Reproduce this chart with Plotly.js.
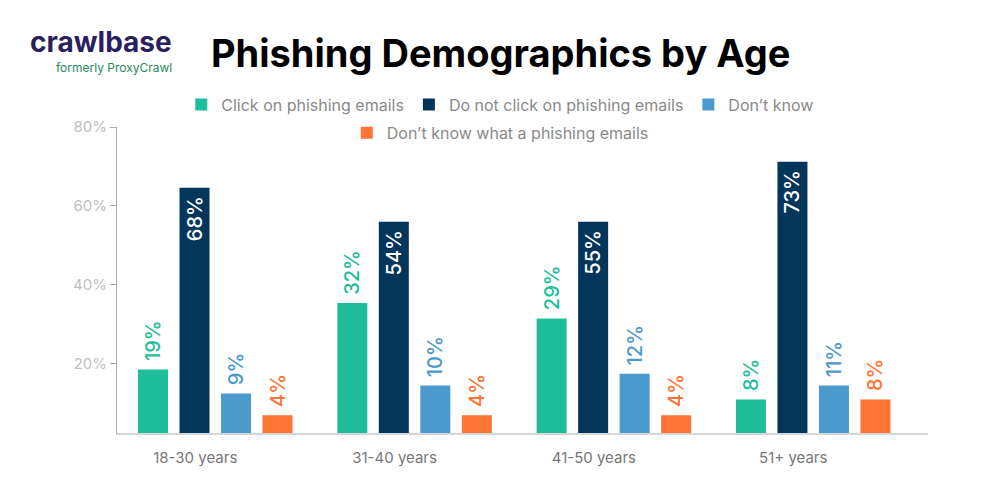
<!DOCTYPE html>
<html>
<head>
<meta charset="utf-8">
<script src="https://cdn.plot.ly/plotly-3.0.1.min.js"></script>
<style>html,body{margin:0;padding:0;background:#fff;}#chart{width:1000px;height:500px;}</style>
</head>
<body>
<div id="chart"></div>
<script>
const categories = ["18-30 years", "31-40 years", "41-50 years", "51+ years"];
const seriesNames = ["Click on phishing emails", "Do not click on phishing emails", "Don\u2019t know", "Don\u2019t know what a phishing emails"];
// bar heights as drawn in the picture (percent)
const clickBars = [18.6, 35.4, 31.5, 11.0];
const noClickBars = [64.6, 56.0, 56.0, 71.2];
const dontKnowBars = [12.5, 14.5, 17.5, 14.5];
const unawareBars = [7.0, 7.0, 7.0, 11.0];
// printed labels
const clickLabels = [19, 32, 29, 8];
const noClickLabels = [68, 54, 55, 73];
const dontKnowLabels = [9, 10, 12, 11];
const unawareLabels = [4, 4, 4, 8];
const yTicks = [20, 40, 60, 80];

const colors = ["#1ebe9a", "#04365c", "#4b9acb", "#fd7435"];
const FONT = "Inter, 'Noto Sans', sans-serif";
const pct = a => a.map(v => v + "%");
const NB = "\u00a0";

function outsideTrace(name, y, labels, color, legend) {
  return {
    type: "bar", name: name, x: categories, y: y,
    text: pct(labels).map(t => NB + t), textposition: "outside", textangle: -90, constraintext: "none",
    textfont: {family: FONT, size: 20, color: color, weight: 500},
    marker: {color: color}, cliponaxis: false, legend: legend,
    hoverinfo: "skip"
  };
}

const traces = [
  outsideTrace(seriesNames[0], clickBars, clickLabels, colors[0], "legend"),
  {
    type: "bar", name: seriesNames[1], x: categories, y: noClickBars,
    text: pct(noClickLabels).map(t => t + NB), textposition: "inside", insidetextanchor: "end", textangle: -90, constraintext: "none",
    insidetextfont: {family: FONT, size: 20, color: "#ffffff", weight: 500},
    marker: {color: colors[1]}, cliponaxis: false, legend: "legend", hoverinfo: "skip"
  },
  outsideTrace(seriesNames[2], dontKnowBars, dontKnowLabels, colors[2], "legend"),
  outsideTrace(seriesNames[3], unawareBars, unawareLabels, colors[3], "legend2")
];

const legendCommon = {
  orientation: "h", xanchor: "center", yanchor: "middle",
  font: {family: FONT, size: 16, color: "#8a8a8a"},
  bgcolor: "rgba(0,0,0,0)", itemwidth: 30, traceorder: "normal"
};

const layout = {
  width: 1000, height: 500,
  margin: {l: 117, r: 72, t: 127, b: 67, pad: 0},
  paper_bgcolor: "#ffffff", plot_bgcolor: "#ffffff",
  font: {family: FONT},
  barmode: "group", bargap: 0.167, bargroupgap: 0.277,
  xaxis: {
    type: "category", range: [-0.493, 3.576],
    showline: true, linecolor: "#d6d6d6", linewidth: 2,
    ticks: "", showgrid: false, zeroline: false,
    tickfont: {family: FONT, size: 15, color: "#777777"},
    ticklabelshift: -20, ticklabelstandoff: 10
  },
  yaxis: {
    range: [2.5, 80], tickvals: yTicks, ticktext: pct(yTicks),
    showline: true, linecolor: "#aaaaaa", linewidth: 1,
    ticks: "outside", ticklen: 6, tickcolor: "#aaaaaa", tickwidth: 1,
    showgrid: false, zeroline: false,
    tickfont: {family: FONT, size: 15, color: "#c0c0c0"}
  },
  legend: Object.assign({x: 0.4726, y: 1.073}, legendCommon),
  legend2: Object.assign({x: 0.4726, y: 0.981}, legendCommon),
  annotations: [
    {xref: "paper", yref: "paper", x: 0.4726, y: 1.0 + (127 - 53) / 306, xanchor: "center", yanchor: "middle",
     text: "<b>Phishing Demographics by Age</b>", showarrow: false,
     font: {family: FONT, size: 38, color: "#000000"}},
    {xref: "paper", yref: "paper", x: (28 - 117) / 811, y: 1.0 + (127 - 42) / 306, xanchor: "left", yanchor: "middle",
     text: "<b>crawlbase</b>", showarrow: false,
     font: {family: FONT, size: 28, color: "#2b1f5e"}},
    {xref: "paper", yref: "paper", x: (174 - 117) / 811, y: 1.0 + (127 - 67) / 306, xanchor: "right", yanchor: "middle",
     text: "formerly ProxyCrawl", showarrow: false,
     font: {family: FONT, size: 12, color: "#2a8a58"}}
  ]
};

Plotly.newPlot("chart", traces, layout, {displayModeBar: false, staticPlot: true});
</script>
</body>
</html>
